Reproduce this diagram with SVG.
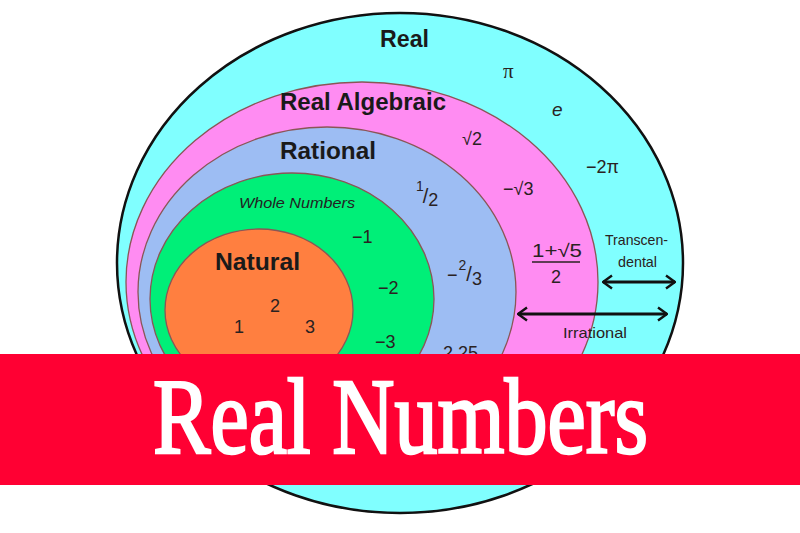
<svg xmlns="http://www.w3.org/2000/svg" width="800" height="533" viewBox="0 0 800 533">
<style>
.set{stroke:#8a5656;stroke-width:1.3}
.lbl{font-family:"Liberation Sans",Arial,sans-serif;font-weight:bold;font-size:24px;fill:#1a1a1a}
.num{font-family:"Liberation Sans",Arial,sans-serif;font-size:18px;fill:#2a2222}
.sm{font-family:"Liberation Sans",Arial,sans-serif;font-size:15px;fill:#2a2222}
.arr{fill:none;stroke:#111;stroke-width:2.8}
</style>
<defs>
<marker id="chev" viewBox="0 0 11 16" refX="10" refY="8" markerWidth="11" markerHeight="16" markerUnits="userSpaceOnUse" orient="auto-start-reverse">
<path d="M1,1.5 L10,8 L1,14.5" fill="none" stroke="#111" stroke-width="2.4"/>
</marker>
</defs>
<rect width="800" height="533" fill="#ffffff"/>
<g id="real">
<ellipse cx="400" cy="263" rx="283" ry="250" fill="#80ffff" stroke="#111" stroke-width="2.5"/>
</g>
<g id="real-algebraic">
<ellipse class="set" cx="362" cy="282" rx="236" ry="200" fill="#ff8cf2"/>
</g>
<g id="rational">
<ellipse class="set" cx="327" cy="292" rx="189" ry="165" fill="#9dbdf3"/>
</g>
<g id="whole">
<ellipse class="set" cx="292" cy="299" rx="142" ry="126" fill="#00ef78"/>
</g>
<g id="natural">
<ellipse class="set" cx="259" cy="310" rx="94" ry="81" fill="#ff7f40"/>
</g>
<g id="labels">
<text class="lbl" x="380" y="47" textLength="49" lengthAdjust="spacingAndGlyphs">Real</text>
<text class="lbl" x="280" y="110" textLength="166" lengthAdjust="spacingAndGlyphs">Real Algebraic</text>
<text class="lbl" x="280" y="159" textLength="96" lengthAdjust="spacingAndGlyphs">Rational</text>
<text class="lbl" x="215" y="270" textLength="85" lengthAdjust="spacingAndGlyphs">Natural</text>
<text x="239" y="208" font-family="Liberation Sans,Arial,sans-serif" font-style="italic" font-size="15" fill="#222" textLength="116" lengthAdjust="spacingAndGlyphs">Whole Numbers</text>
</g>
<g id="numbers">
<text x="503" y="78" font-family="Liberation Serif,serif" font-size="21" fill="#2a2222">π</text>
<text x="552" y="116" font-family="Liberation Sans,Arial,sans-serif" font-style="italic" font-size="19" fill="#2a2222">e</text>
<text class="num" x="462" y="145">√2</text>
<text class="num" x="586" y="173">−2π</text>
<text class="num" x="503" y="195">−√3</text>
<text class="num" x="416" y="191"><tspan font-size="14">1</tspan><tspan font-size="20" dy="12" dx="-1">/</tspan><tspan dy="3">2</tspan></text>
<text class="num" x="352" y="243">−1</text>
<text class="num" x="378" y="294">−2</text>
<text class="num" x="375" y="348">−3</text>
<text class="num" x="447" y="281">−<tspan font-size="14" dy="-11" dx="1">2</tspan><tspan font-size="20" dy="11">/</tspan><tspan dy="4">3</tspan></text>
<text class="num" x="270" y="312">2</text>
<text class="num" x="234" y="333">1</text>
<text class="num" x="305" y="333">3</text>
<text class="num" x="443" y="359">2.25</text>
<text class="num" x="532" y="257" textLength="50" lengthAdjust="spacingAndGlyphs">1+√5</text>
<line x1="532" y1="262" x2="580" y2="262" stroke="#2a2222" stroke-width="1.6"/>
<text class="num" x="551" y="283">2</text>
<text class="sm" x="605" y="245" textLength="63" lengthAdjust="spacingAndGlyphs">Transcen-</text>
<text class="sm" x="618" y="267" textLength="39" lengthAdjust="spacingAndGlyphs">dental</text>
<text class="sm" x="563" y="338" textLength="64" lengthAdjust="spacingAndGlyphs">Irrational</text>
</g>
<g id="connectors">
<line class="arr" x1="603" y1="282" x2="675" y2="282" marker-start="url(#chev)" marker-end="url(#chev)"/>
<line class="arr" x1="518" y1="314" x2="667" y2="314" marker-start="url(#chev)" marker-end="url(#chev)"/>
</g>
<g id="banner">
<rect x="0" y="354" width="800" height="131" fill="#ff0033"/>
<text x="153" y="453" font-family="Liberation Serif,'Times New Roman',serif" font-size="107" fill="#ffffff" stroke="#ffffff" stroke-width="2.6" textLength="495" lengthAdjust="spacingAndGlyphs">Real Numbers</text>
</g>
</svg>
